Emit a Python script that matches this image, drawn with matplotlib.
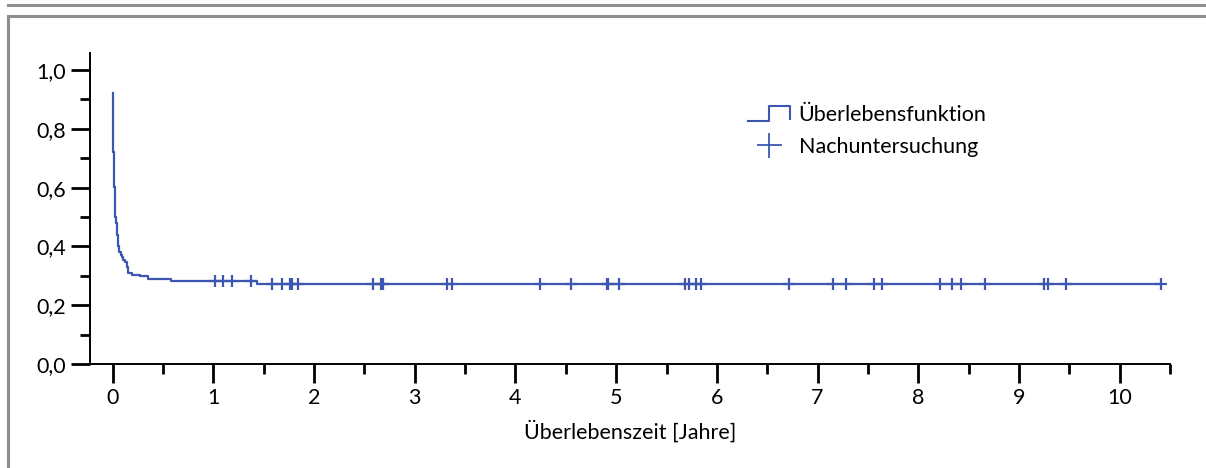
import matplotlib
matplotlib.use('Agg')
import matplotlib.pyplot as plt
import numpy as np
from matplotlib.lines import Line2D
from matplotlib.legend_handler import HandlerBase
from matplotlib.ticker import FuncFormatter, MultipleLocator

# Kaplan-Meier Stufen: Zeitpunkte (Jahre) und geschaetzte Ueberlebensrate
step_times = [0.0, 0.004, 0.008, 0.012, 0.017, 0.022, 0.026, 0.032, 0.040,
              0.046, 0.050, 0.058, 0.066, 0.080, 0.090, 0.105, 0.123, 0.140,
              0.150, 0.190, 0.270, 0.354, 0.576, 1.437]
step_surv = [0.923, 0.800, 0.720, 0.660, 0.603, 0.550, 0.501, 0.480, 0.467,
             0.440, 0.422, 0.400, 0.382, 0.370, 0.365, 0.355, 0.348, 0.331,
             0.308, 0.303, 0.298, 0.288, 0.281, 0.272]

# zensierte Beobachtungen (Nachuntersuchung)
censor_times = [1.016, 1.093, 1.189, 1.372, 1.58, 1.68, 1.76, 1.78, 1.84,
                2.59, 2.66, 2.68, 3.32, 3.37, 4.24, 4.55, 4.91, 4.92, 5.03,
                5.68, 5.72, 5.79, 5.84, 6.72, 7.15, 7.28, 7.56, 7.64, 8.22,
                8.34, 8.42, 8.66, 9.25, 9.29, 9.47, 10.41]

blue = '#3d57b0'
grey = '#8e8e8e'

plt.rcParams['font.family'] = ['Lato', 'DejaVu Sans']
plt.rcParams['font.size'] = 15.5


class StepHandler(HandlerBase):
    # kleines Treppen-Symbol fuer die Legende
    def create_artists(self, legend, orig_handle, xdescent, ydescent,
                       width, height, fontsize, trans):
        x0 = -xdescent
        y0 = -ydescent
        xs = [x0, x0 + width * 0.5, x0 + width * 0.5, x0 + width, x0 + width]
        ys = [y0, y0, y0 + height, y0 + height, y0 + height * 0.1]
        ln = Line2D(xs, ys, color=blue, lw=1.5, transform=trans)
        return [ln]


def surv_at(t):
    i = np.searchsorted(step_times, t, side='right') - 1
    return step_surv[i]


W, H = 1206, 468
fig = plt.figure(figsize=(W / 100, H / 100), dpi=100)

# Rahmen um die Grafik
fig.add_artist(Line2D([8 / W, 1], [1 - 5 / H, 1 - 5 / H], color=grey, lw=2.2,
                      transform=fig.transFigure))
fig.add_artist(Line2D([7.5 / W, 7.5 / W, 1], [0, 1 - 15.5 / H, 1 - 15.5 / H],
                      color=grey, lw=2.2, transform=fig.transFigure,
                      solid_joinstyle='miter'))

ax = fig.add_axes([90 / W, 1 - 364 / H, 1080 / W, 311 / H])

t_end = censor_times[-1]
xs = list(step_times) + [t_end]
ys = list(step_surv) + [step_surv[-1]]
ax.step(xs, ys, where='post', color=blue, lw=1.6)

cy = [surv_at(t) for t in censor_times]
ax.plot(censor_times, cy, linestyle='none', marker='+', color=blue,
        markersize=9, markeredgewidth=1.6)

ax.set_xlim(-0.225, 10.5)
ax.set_ylim(0, 1.058)

for s in ['top', 'right']:
    ax.spines[s].set_visible(False)
for s in ['left', 'bottom']:
    ax.spines[s].set_linewidth(1.4)

ax.xaxis.set_major_locator(MultipleLocator(1))
ax.xaxis.set_minor_locator(MultipleLocator(0.5))
ax.yaxis.set_major_locator(MultipleLocator(0.2))
ax.yaxis.set_minor_locator(MultipleLocator(0.1))
ax.yaxis.set_major_formatter(FuncFormatter(lambda v, p: f'{v:.1f}'.replace('.', ',')))
ax.tick_params(which='major', length=14, width=2, pad=3)
ax.tick_params(which='minor', length=7, width=2)
ax.tick_params(axis='y', pad=3)

ax.set_xlabel('Überlebenszeit [Jahre]', labelpad=9)

step_h = Line2D([], [], color=blue)
cross_h = Line2D([], [], color=blue, marker='+', linestyle='none',
                 markersize=18, markeredgewidth=1.3)
ax.legend([step_h, cross_h], ['Überlebensfunktion', 'Nachuntersuchung'],
          handler_map={step_h: StepHandler()},
          loc='upper left', bbox_to_anchor=(748 / W, 1 - 105 / H),
          bbox_transform=fig.transFigure, frameon=False, borderpad=0,
          borderaxespad=0, handlelength=1.95, handletextpad=0.4,
          labelspacing=0.55, handleheight=0.65)

fig.savefig('out.png', dpi=100)
